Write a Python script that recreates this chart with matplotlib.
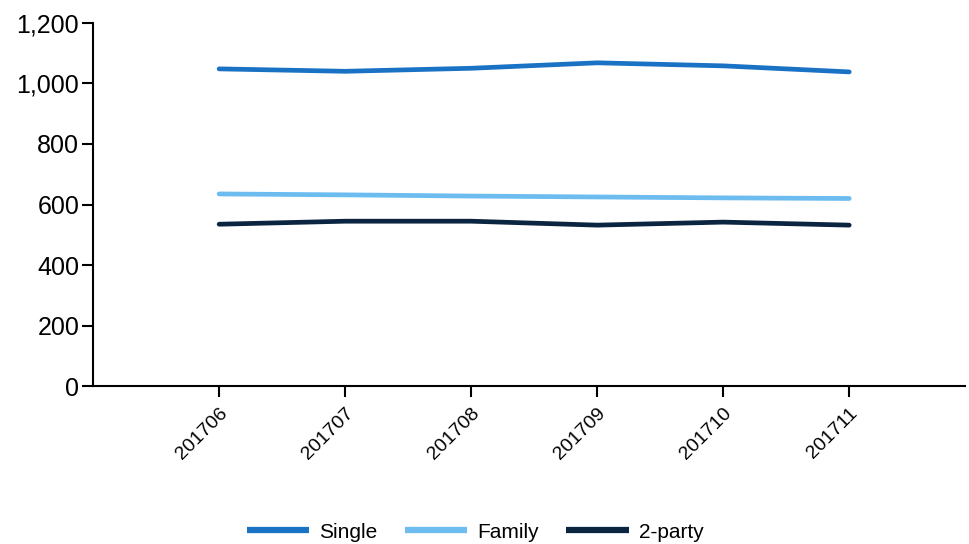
"""Monthly counts by household type, 2017-06 to 2017-11."""

import matplotlib.pyplot as plt
from matplotlib.ticker import FuncFormatter

plt.rcParams["font.family"] = ["Liberation Sans", "DejaVu Sans"]

months = ["201706", "201707", "201708", "201709", "201710", "201711"]
single = [1048, 1040, 1050, 1068, 1058, 1038]
family = [635, 632, 628, 625, 622, 620]
two_party = [535, 545, 545, 532, 542, 532]

series = [
    ("Single", single, "#1a72c4"),
    ("Family", family, "#6cbcf0"),
    ("2-party", two_party, "#0b2440"),
]

fig = plt.figure(figsize=(9.7, 5.44), dpi=100)
ax = fig.add_axes([0.096, 0.29, 0.899, 0.668])

x = range(len(months))
for label, vals, color in series:
    ax.plot(x, vals, color=color, linewidth=3.4, label=label, solid_capstyle="round")

ax.set_xlim(-1, 5.92)
ax.set_ylim(0, 1200)
ax.set_yticks(range(0, 1201, 200))
ax.yaxis.set_major_formatter(FuncFormatter(lambda v, _: f"{int(v):,}"))
ax.set_xticks(list(x))
ax.set_xticklabels(months, rotation=45, ha="right", rotation_mode="anchor", fontsize=14)
ax.tick_params(axis="y", labelsize=18, length=8, width=1.5, pad=2)
ax.tick_params(axis="x", length=8, width=1.5, pad=5)

for side in ("top", "right"):
    ax.spines[side].set_visible(False)
for side in ("left", "bottom"):
    ax.spines[side].set_linewidth(1.5)

leg = fig.legend(
    loc="lower center",
    bbox_to_anchor=(0.49, -0.03),
    ncol=3,
    frameon=False,
    fontsize=15,
    handlelength=3.0,
    columnspacing=1.3,
    handletextpad=0.5,
)
for line in leg.get_lines():
    line.set_linewidth(4.5)
    line.set_solid_capstyle("butt")

fig.savefig("out.png", dpi=100)
plt.close(fig)
